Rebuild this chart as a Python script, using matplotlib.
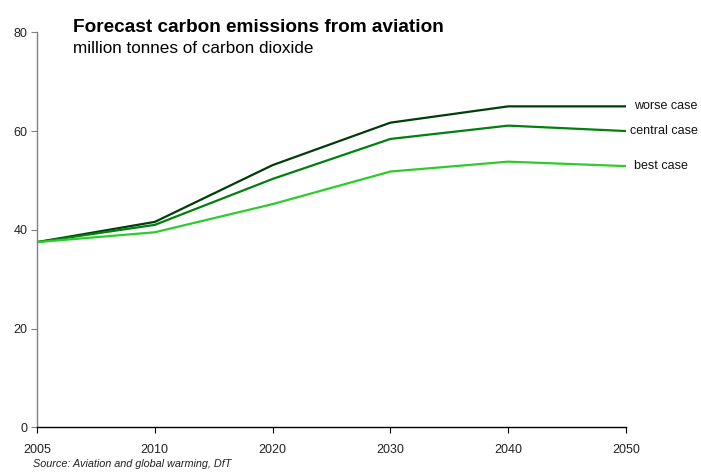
import matplotlib
matplotlib.use("Agg")
import matplotlib.pyplot as plt

plt.rcParams['font.family'] = ['Liberation Sans', 'DejaVu Sans']

years = ["2005", "2010", "2020", "2030", "2040", "2050"]
worse = [37.5, 41.6, 53.1, 61.7, 65.0, 65.0]
central = [37.5, 41.0, 50.3, 58.4, 61.1, 60.0]
best = [37.5, 39.5, 45.2, 51.8, 53.8, 52.9]
series_names = ["worse case", "central case", "best case"]
colors = ["#003d0a", "#008010", "#2ecc2a"]
label_offsets = [6, 3, 5.5]

fig = plt.figure(figsize=(7.01, 4.72), dpi=100)
ax = fig.add_axes([37/701, 1-427.3/472, (626-37)/701, (427.3-32.3)/472])

x = list(range(len(years)))
for vals, name, c, off in zip([worse, central, best], series_names, colors, label_offsets):
    ax.plot(x, vals, color=c, lw=1.6, solid_joinstyle='miter')
    ax.annotate(name, xy=(x[-1], vals[-1]), xytext=(off, 0), textcoords='offset points',
                va='center', ha='left', fontsize=9, color='#111111')

ax.set_xlim(0, len(years)-1)
ax.set_ylim(0, 80)
ax.set_xticks(x)
ax.set_xticklabels(years)
ax.set_yticks([0, 20, 40, 60, 80])
ax.tick_params(axis='both', labelsize=9, length=4, width=0.8, colors='#222222')
ax.tick_params(axis='x', direction='out', pad=8, color='black')
ax.tick_params(axis='y', direction='out', pad=3, color='#808080')
for s in ['top', 'right']:
    ax.spines[s].set_visible(False)
ax.spines['left'].set_color('#808080')
ax.spines['left'].set_linewidth(1.0)
ax.spines['bottom'].set_color('black')
ax.spines['bottom'].set_linewidth(1.0)

fig.text(73/701, 1-32/472, "Forecast carbon emissions from aviation", fontsize=13.7,
         fontweight='bold', ha='left', va='baseline')
fig.text(73/701, 1-53/472, "million tonnes of carbon dioxide", fontsize=12.3,
         ha='left', va='baseline')
fig.text(33/701, 1-467/472, "Source: Aviation and global warming, DfT", fontsize=7.8,
         style='italic', ha='left', va='baseline', color='#222222')

fig.savefig("out.png", dpi=100)
